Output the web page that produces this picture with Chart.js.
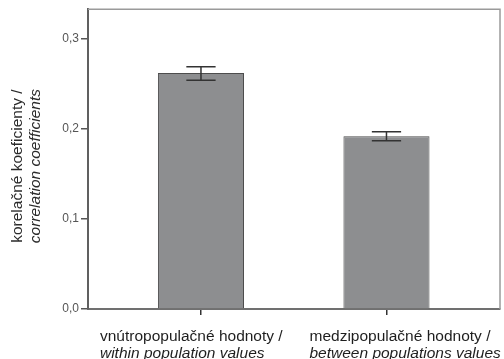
<!DOCTYPE html>
<html>
<head>
<meta charset="utf-8">
<script src="https://cdn.jsdelivr.net/npm/chart.js@4.4.1/dist/chart.umd.min.js"></script>
<style>
  html, body { margin: 0; padding: 0; background: #fff; }
  #wrap { width: 504px; height: 359px; position: relative; }
</style>
</head>
<body>
<div id="wrap"><canvas id="chart"></canvas></div>
<script>
// data
const categories = ['vnútropopulačné hodnoty /', 'medzipopulačné hodnoty /'];
const categoriesEn = ['within population values', 'between populations values'];
const means = [0.262, 0.192];
const errLow = [0.254, 0.187];
const errHigh = [0.269, 0.197];
const yTicks = [0, 0.1, 0.2, 0.3];
const yTitle = ['korelačné koeficienty /', 'correlation coefficients'];

const FONT = "'Liberation Sans', Arial, sans-serif";

// top + right edges of the plot box
const framePlugin = {
  id: 'frame',
  afterDraw(chart) {
    const { ctx, chartArea: a } = chart;
    ctx.save();
    ctx.strokeStyle = '#9a9a9a';
    ctx.lineWidth = 1.5;
    ctx.beginPath();
    ctx.moveTo(a.left, a.top);
    ctx.lineTo(a.right, a.top);
    ctx.lineTo(a.right, a.bottom);
    ctx.stroke();
    ctx.restore();
  }
};

const errorBarPlugin = {
  id: 'errorBars',
  afterDatasetsDraw(chart) {
    const ctx = chart.ctx;
    const y = chart.scales.y;
    const meta = chart.getDatasetMeta(0);
    ctx.save();
    ctx.strokeStyle = '#333';
    ctx.lineWidth = 1.5;
    meta.data.forEach((bar, i) => {
      const top = y.getPixelForValue(errHigh[i]);
      const bot = y.getPixelForValue(errLow[i]);
      const half = bar.width * 0.17;
      ctx.beginPath();
      ctx.moveTo(bar.x, top); ctx.lineTo(bar.x, bot);
      ctx.moveTo(bar.x - half, top); ctx.lineTo(bar.x + half, top);
      ctx.moveTo(bar.x - half, bot); ctx.lineTo(bar.x + half, bot);
      ctx.stroke();
    });
    ctx.restore();
  }
};

// two-line titles (normal + italic line) that Chart.js can't mix itself
const titlePlugin = {
  id: 'titles',
  afterDraw(chart) {
    const { ctx, chartArea: a } = chart;
    const x = chart.scales.x;
    const shift = [-101, -77];
    ctx.save();
    ctx.textBaseline = 'middle';
    ctx.textAlign = 'left';
    ctx.fillStyle = '#1e1e1e';
    categories.forEach((c, i) => {
      const px = x.getPixelForValue(i) + shift[i];
      ctx.font = '15.5px ' + FONT;
      ctx.fillText(c, px, a.bottom + 28);
      ctx.font = 'italic 15.5px ' + FONT;
      ctx.fillText(categoriesEn[i], px, a.bottom + 45);
    });
    const cy = (a.top + a.bottom) / 2 + 7;
    ctx.translate(0, cy);
    ctx.rotate(-Math.PI / 2);
    ctx.textAlign = 'center';
    ctx.fillStyle = '#2a2a2a';
    ctx.font = '15.5px ' + FONT;
    ctx.fillText(yTitle[0], 0, 18);
    ctx.font = 'italic 15.5px ' + FONT;
    ctx.fillText(yTitle[1], 0, 36);
    ctx.restore();
  }
};

new Chart(document.getElementById('chart'), {
  type: 'bar',
  data: {
    datasets: [{
      data: means.map((v, i) => ({ x: i, y: v })),
      backgroundColor: '#8d8e90',
      borderColor: '#4d4d4d',
      borderWidth: 1,
      categoryPercentage: 1,
      barPercentage: 0.464
    }]
  },
  options: {
    responsive: true,
    maintainAspectRatio: false,
    animation: false,
    layout: { padding: { top: 8, right: 4, left: 0, bottom: 0 } },
    plugins: { legend: { display: false }, tooltip: { enabled: false } },
    scales: {
      x: {
        type: 'linear',
        offset: false,
        min: -0.609,
        max: 1.612,
        afterBuildTicks: s => { s.ticks = categories.map((c, i) => ({ value: i })); },
        afterFit: s => { s.height = 50; },
        grid: { offset: false, drawOnChartArea: false, drawTicks: true, tickLength: 6, color: '#333', tickColor: '#333', lineWidth: 1.5 },
        border: { color: '#707070', width: 2 },
        ticks: { display: true, autoSkip: false, callback: () => ' ' }
      },
      y: {
        min: 0,
        max: 0.333,
        afterBuildTicks: s => { s.ticks = yTicks.map(v => ({ value: v })); },
        afterFit: s => { s.width = 88; },
        grid: { drawOnChartArea: false, drawTicks: true, tickLength: 7, color: '#555', lineWidth: 1.5 },
        border: { color: '#606060', width: 2 },
        ticks: {
          padding: 2,
          color: '#555',
          font: { family: FONT, size: 12 },
          callback: v => v.toFixed(1).replace('.', ',')
        }
      }
    }
  },
  plugins: [framePlugin, errorBarPlugin, titlePlugin]
});
</script>
</body>
</html>
